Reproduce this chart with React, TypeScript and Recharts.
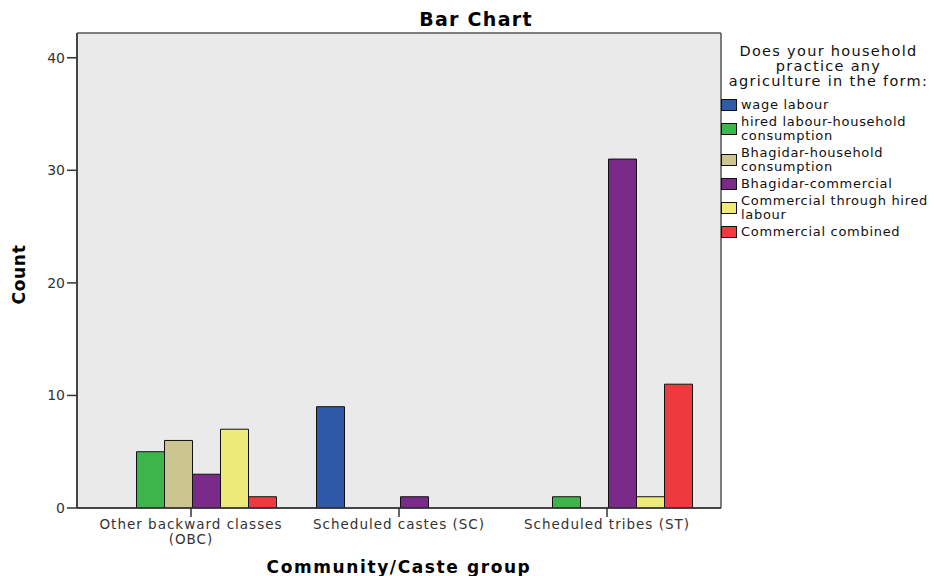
import React from 'react';
import { Bar, BarChart, CartesianGrid, XAxis, YAxis } from 'recharts';

// categorias do eixo X ("\n" = quebra de linha no rótulo)
const categories = ['Other backward classes\n(OBC)', 'Scheduled castes (SC)', 'Scheduled tribes (ST)'];

// contagens por série, na ordem das categorias
const wageLabour = [0, 9, 0];
const hiredLabourHousehold = [5, 0, 1];
const bhagidarHousehold = [6, 0, 0];
const bhagidarCommercial = [3, 1, 31];
const commercialHired = [7, 0, 1];
const commercialCombined = [1, 0, 11];

const seriesNames = [
  'wage labour',
  'hired labour-household\nconsumption',
  'Bhagidar-household\nconsumption',
  'Bhagidar-commercial',
  'Commercial through hired\nlabour',
  'Commercial combined',
];
const seriesValues = [
  wageLabour,
  hiredLabourHousehold,
  bhagidarHousehold,
  bhagidarCommercial,
  commercialHired,
  commercialCombined,
];
const seriesColors = ['#2F5AA8', '#3DB54B', '#CBC68F', '#7A2A88', '#EEEA7A', '#EE3A3E'];

const yTicks = [0, 10, 20, 30, 40];
const yMax = 42.2;
const legendTitle = ['Does your household', 'practice any', 'agriculture in the form:'];

const data = categories.map((name, i) => {
  const row: Record<string, string | number> = { name };
  seriesValues.forEach((vals, s) => {
    row[`s${s}`] = vals[i];
  });
  return row;
});

const FONT = '"DejaVu Sans", sans-serif';

const XTick = ({ x, y, payload }: any) => {
  const lines = String(payload.value).split('\n');
  return (
    <text x={x} y={y} textAnchor="middle" fill="#333" fontSize={13.5} fontFamily={FONT} letterSpacing={1}>
      {lines.map((l, i) => (
        <tspan key={i} x={x} dy={i === 0 ? 10 : 15}>
          {l}
        </tspan>
      ))}
    </text>
  );
};

const XTitle = ({ viewBox }: any) => (
  <text
    x={viewBox.x + viewBox.width / 2}
    y={573}
    textAnchor="middle"
    fontSize={17}
    fontWeight="bold"
    fontFamily={FONT}
    letterSpacing={1.6}
    fill="#000"
  >
    Community/Caste group
  </text>
);

const YTitle = ({ viewBox }: any) => {
  const cy = viewBox.y + viewBox.height / 2 + 4;
  return (
    <text
      x={25}
      y={cy}
      transform={`rotate(-90 25 ${cy})`}
      textAnchor="middle"
      fontSize={17}
      fontWeight="bold"
      fontFamily={FONT}
      letterSpacing={0.7}
      fill="#000"
    >
      Count
    </text>
  );
};

export default function App() {
  return (
    <div style={{ position: 'absolute', left: 0, top: 0, width: 936, height: 576, background: '#fff' }}>
      <div
        style={{
          position: 'absolute',
          left: 476,
          top: 10,
          transform: 'translateX(-50%)',
          fontFamily: FONT,
          fontWeight: 'bold',
          fontSize: 19,
          lineHeight: '19px',
          letterSpacing: 1.3,
          whiteSpace: 'nowrap',
          color: '#000',
        }}
      >
        Bar Chart
      </div>

      <BarChart
        width={936}
        height={576}
        data={data}
        margin={{ top: 33, right: 215, bottom: 0, left: 0 }}
        barCategoryGap={21.5}
        barGap={0}
      >
        {/* fundo cinza + moldura nas bordas da área do gráfico */}
        <CartesianGrid
          fill="#EAEAEA"
          stroke="#555"
          strokeWidth={1.5}
          horizontalCoordinatesGenerator={({ offset }: any) => [offset.top, offset.top + offset.height]}
          verticalCoordinatesGenerator={({ offset }: any) => [offset.left, offset.left + offset.width]}
        />
        <XAxis
          dataKey="name"
          height={68}
          padding={{ left: 10, right: 10 }}
          tick={<XTick />}
          tickSize={9}
          tickMargin={2}
          tickLine={{ stroke: '#333', strokeWidth: 1.5 }}
          axisLine={{ stroke: '#333', strokeWidth: 1.5 }}
          interval={0}
          label={<XTitle />}
        />
        <YAxis
          width={77}
          domain={[0, yMax]}
          ticks={yTicks}
          allowDataOverflow
          tickSize={10}
          tickMargin={2}
          tick={{ fill: '#333', fontSize: 14, fontFamily: FONT }}
          tickLine={{ stroke: '#333', strokeWidth: 1.5 }}
          axisLine={{ stroke: '#333', strokeWidth: 1.5 }}
          label={<YTitle />}
        />
        {seriesNames.map((name, s) => (
          <Bar
            key={name}
            dataKey={`s${s}`}
            name={name}
            fill={seriesColors[s]}
            stroke="#111"
            strokeWidth={1}
            isAnimationActive={false}
          />
        ))}
      </BarChart>

      {/* legenda ao lado do gráfico, no estilo SPSS */}
      <div style={{ position: 'absolute', left: 721, top: 44, width: 215, fontFamily: FONT, color: '#111' }}>
        <div style={{ textAlign: 'center', fontSize: 14.5, lineHeight: '15px', letterSpacing: 1.3, whiteSpace: 'nowrap' }}>
          {legendTitle.map((l) => (
            <div key={l}>{l}</div>
          ))}
        </div>
        <div style={{ marginTop: 9 }}>
          {seriesNames.map((name, s) => (
            <div key={name} style={{ display: 'flex', alignItems: 'center', marginBottom: 3 }}>
              <div
                style={{
                  width: 14,
                  height: 10,
                  background: seriesColors[s],
                  border: '1px solid #111',
                  marginRight: 4,
                  flex: 'none',
                }}
              />
              <div style={{ fontSize: 13, lineHeight: '14px', letterSpacing: 0.7, whiteSpace: 'nowrap' }}>
                {name.split('\n').map((l) => (
                  <div key={l}>{l}</div>
                ))}
              </div>
            </div>
          ))}
        </div>
      </div>
    </div>
  );
}
